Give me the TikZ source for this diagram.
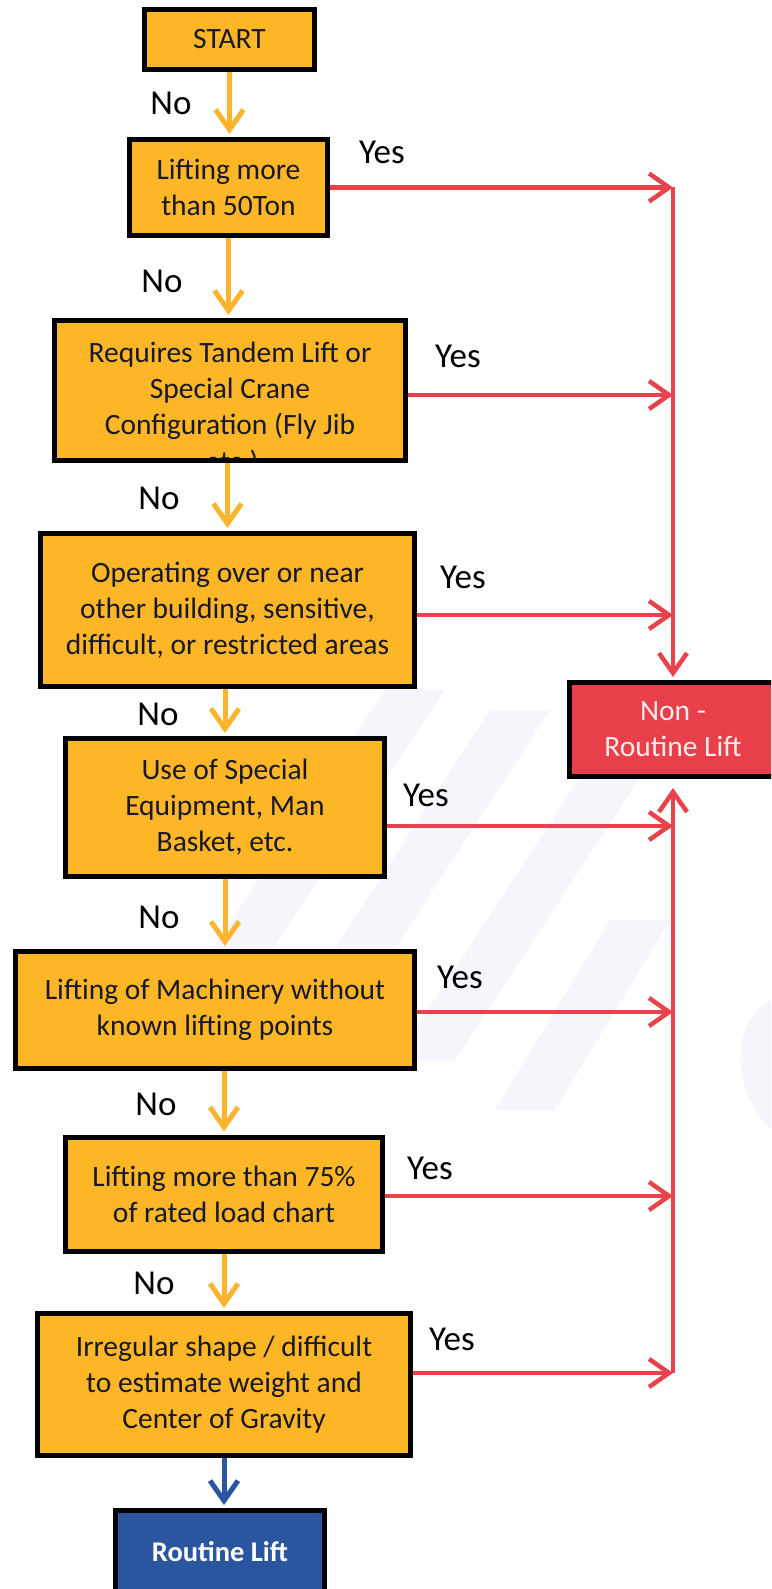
\documentclass[tikz,border=0pt]{standalone}
\usepackage{fontspec}
\setmainfont{Carlito}
\usetikzlibrary{arrows.meta}
\definecolor{boxorange}{RGB}{253,182,38}
\definecolor{arrorange}{RGB}{251,180,46}
\definecolor{lred}{RGB}{233,66,76}
\definecolor{nrred}{RGB}{231,64,74}
\definecolor{rblue}{RGB}{42,86,160}
\definecolor{txtnavy}{RGB}{24,24,40}
\definecolor{nrtext}{RGB}{252,236,236}
\definecolor{wmark}{RGB}{245,245,251}
\begin{document}
\begin{tikzpicture}[x=1pt,y=-1pt,
  qbox/.style={draw=black, line width=5pt, fill=boxorange, text=txtnavy,
    font=\fontsize{29.5}{36}\selectfont, align=center, inner sep=0pt},
  endbox/.style={qbox, fill=#1},
  lbl/.style={font=\fontsize{35}{40}\selectfont, text=black, inner sep=0pt},
  oarr/.style={draw=arrorange, line width=5pt, -{Straight Barb[length=20pt,width=28pt]}, shorten >=3pt},
  barr/.style={oarr, draw=rblue},
  rarr/.style={draw=lred, line width=4.5pt, -{Straight Barb[length=20pt,width=28pt]}},
  band/.style={fill=wmark}
]
\clip (0,0) rectangle (771,1589);
\fill[white] (0,0) rectangle (771,1589);

% faint watermark stripes
\fill[band] (205,960) -- (265,960) -- (445,690) -- (385,690) -- cycle;
\fill[band] (295,1010) -- (355,1010) -- (550,710) -- (490,710) -- cycle;
\fill[band] (395,1060) -- (455,1060) -- (645,770) -- (585,770) -- cycle;
\fill[band] (495,1110) -- (555,1110) -- (670,920) -- (610,920) -- cycle;
\fill[band] (771,1000) .. controls (735,1020) and (725,1080) .. (771,1130) -- cycle;

% boxes
\node[qbox, minimum width=170pt, minimum height=60pt] (start) at (229.5,39.5) {START};
\node[qbox, minimum width=198pt, minimum height=96pt] (q1) at (228.5,187.5) {Lifting more\\than 50Ton};
\node[qbox, minimum width=351pt, minimum height=140pt] (q2) at (230,390.5) {Requires Tandem Lift or\\Special Crane\\Configuration (Fly Jib};
\begin{scope}
  \clip ([xshift=5pt,yshift=-5pt]q2.north west) rectangle ([xshift=-5pt,yshift=5pt]q2.south east);
  \node[qbox, draw=none, fill=none, anchor=base] (q2more) at (232,471) {etc.)};
\end{scope}
\node[qbox, minimum width=374pt, minimum height=153pt] (q3) at (227.5,610) {Operating over or near\\other building, sensitive,\\difficult, or restricted areas};
\node[qbox, minimum width=319pt, minimum height=138pt] (q4) at (225,807.5) {Use of Special\\Equipment, Man\\Basket, etc.};
\node[qbox, minimum width=399pt, minimum height=117pt] (q5) at (215,1010) {Lifting of Machinery without\\known lifting points};
\node[qbox, minimum width=317pt, minimum height=114pt] (q6) at (224,1194) {Lifting more than 75\%\\of rated load chart};
\node[qbox, minimum width=373pt, minimum height=142pt] (q7) at (224,1384.5) {Irregular shape / difficult\\to estimate weight and\\Center of Gravity};
\node[endbox=nrred, text=nrtext, minimum width=207pt, minimum height=94pt] (nr) at (673,729.5) {Non -\\Routine Lift};
\node[endbox=rblue, text=white, font=\bfseries\fontsize{28.5}{36}\selectfont, minimum width=209pt, minimum height=83pt] (rl) at (220,1552) {Routine Lift};

% No labels
\node[lbl] (no1) at (171,103) {No};
\node[lbl] (no2) at (162,281) {No};
\node[lbl] (no3) at (159,498) {No};
\node[lbl] (no4) at (158,714) {No};
\node[lbl] (no5) at (159,917) {No};
\node[lbl] (no6) at (156,1104) {No};
\node[lbl] (no7) at (154,1283) {No};
% Yes labels
\node[lbl] (yes1) at (382,152) {Yes};
\node[lbl] (yes2) at (458,356) {Yes};
\node[lbl] (yes3) at (463,577) {Yes};
\node[lbl] (yes4) at (426,795) {Yes};
\node[lbl] (yes5) at (460,977) {Yes};
\node[lbl] (yes6) at (430,1168) {Yes};
\node[lbl] (yes7) at (452,1339) {Yes};

% No arrows
\draw[oarr] (start) -- (start |- q1.north);
\draw[oarr] (q1) -- (q1 |- q2.north);
\draw[oarr] (q3.north |- q2.south) -- (q3.north);
\draw[oarr] (q4.north |- q3.south) -- (q4.north);
\draw[oarr] (q4) -- (q4 |- q5.north);
\draw[oarr] (q6.north |- q5.south) -- (q6.north);
\draw[oarr] (q6) -- (q6 |- q7.north);
\draw[barr] (q7) -- (q7 |- rl.north);

% Yes arrows
\coordinate (y1) at (q1.east);
\coordinate (y2) at ([yshift=-4.5pt]q2.east);
\coordinate (y3) at ([yshift=-5pt]q3.east);
\coordinate (y4) at ([yshift=-18.5pt]q4.east);
\coordinate (y5) at ([yshift=-2pt]q5.east);
\coordinate (y6) at ([yshift=-2pt]q6.east);
\coordinate (y7) at ([yshift=11.5pt]q7.east);
\foreach \c in {y1,y2,y3,y4,y5,y6,y7}{
  \draw[rarr] (\c) -- (\c -| nr);
}
% collector lines
\draw[rarr, shorten >=3pt] (y1 -| nr) -- (nr.north);
\draw[rarr, shorten >=9pt] (y7 -| nr) -- (nr.south);
\end{tikzpicture}
\end{document}
